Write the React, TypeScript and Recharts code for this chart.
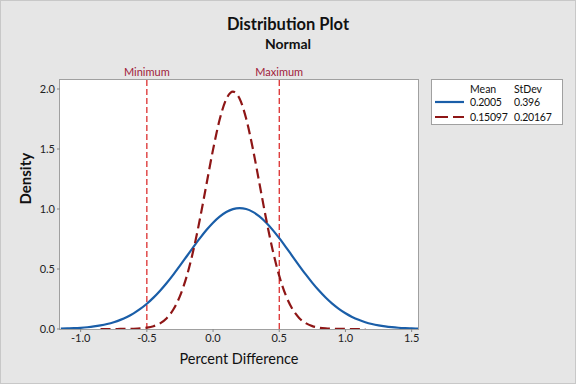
import { LineChart, Line, XAxis, YAxis, ReferenceLine } from 'recharts'

const xValues = [
  -1.15, -1.1, -1.05, -1.0, -0.95, -0.9, -0.85, -0.8, -0.75, -0.7, -0.65, -0.6, -0.55, -0.5,
  -0.45, -0.4, -0.35, -0.3, -0.25, -0.2, -0.15, -0.1, -0.05, 0.0, 0.05, 0.1, 0.15, 0.2,
  0.25, 0.3, 0.35, 0.4, 0.45, 0.5, 0.55, 0.6, 0.65, 0.7, 0.75, 0.8, 0.85, 0.9, 0.95, 1.0,
  1.05, 1.1, 1.15, 1.2, 1.25, 1.3, 1.35, 1.4, 1.45, 1.5, 1.55,
]

// Mean 0.2005, StDev 0.396
const densityWide = [
  0.003, 0.00459, 0.00688, 0.01018, 0.0148, 0.02119, 0.02987, 0.04141, 0.05653, 0.07592,
  0.10034, 0.13057, 0.1672, 0.21072, 0.26136, 0.31907, 0.38331, 0.45327, 0.52746, 0.60408,
  0.68095, 0.75538, 0.82473, 0.88624, 0.93724, 0.9755, 0.99927, 1.00743, 0.99959, 0.97613,
  0.93814, 0.88737, 0.82607, 0.75684, 0.68246, 0.60563, 0.52899, 0.45469, 0.38469, 0.3203,
  0.26246, 0.21168, 0.16803, 0.13126, 0.10091, 0.07636, 0.05687, 0.04167, 0.03006, 0.02135,
  0.01492, 0.01026, 0.00694, 0.00462, 0.00303,
]

// Mean 0.15097, StDev 0.20167
const densityNarrow = [
  null, null, null, null, null, null, 0.00001, 0.00003, 0.00008, 0.00027,
  0.00074, 0.00193, 0.00471, 0.01081, 0.02333, 0.04737, 0.09044, 0.16233, 0.27412, 0.43516,
  0.64956, 0.91193, 1.20399, 1.49479, 1.74517, 1.91603, 1.97818, 1.9206, 1.75351, 1.50551,
  1.21553, 0.92289, 0.65894, 0.44247, 0.27934, 0.16579, 0.09264, 0.04862, 0.024, 0.01115,
  0.00487, 0.002, 0.00077, 0.00028, 0.0001, 0.00003, 0.00001, null, null, null,
  null, null, null, null, null,
]

const xTicks = [-1.0, -0.5, 0.0, 0.5, 1.0, 1.5]
const yTicks = [0.0, 0.5, 1.0, 1.5, 2.0]
const limits = [
  { x: -0.5, label: 'Minimum' },
  { x: 0.5, label: 'Maximum' },
]
const legendRows = [
  { mean: '0.2005', sd: '0.396', color: '#1a5ea8', dash: '' },
  { mean: '0.15097', sd: '0.20167', color: '#8e1616', dash: '13 5' },
]

const data = xValues.map((x, i) => ({ x, wide: densityWide[i], narrow: densityNarrow[i] }))

const font = 'Lato, "Open Sans", sans-serif'
// plot area (inside the grey frame)
const PLOT = { left: 60, top: 80, right: 418, bottom: 329 }

export default function App() {
  return (
    <div style={{
      position: 'absolute', left: 0, top: 0, width: 576, height: 384, background: '#e6e6e6',
      boxShadow: 'inset 0 0 0 1px #c8c8c8', fontFamily: font, overflow: 'hidden',
    }}>
      <div style={{ position: 'absolute', left: 0, width: 576, top: 14, textAlign: 'center', fontSize: 16.5, fontWeight: 700, color: '#111' }}>
        Distribution Plot
      </div>
      <div style={{ position: 'absolute', left: 0, width: 576, top: 35, textAlign: 'center', fontSize: 14, fontWeight: 700, color: '#111' }}>
        Normal
      </div>
      <div style={{
        position: 'absolute', left: PLOT.left - 1, top: PLOT.top - 1, width: PLOT.right - PLOT.left,
        height: PLOT.bottom - PLOT.top, background: '#fff', border: '1px solid #a0a0a0',
      }} />
      <div style={{ position: 'absolute', left: 0, top: 0 }}>
        <LineChart width={576} height={384} data={data}
          margin={{ top: PLOT.top, right: 576 - PLOT.right, bottom: 0, left: 0 }}>
          <XAxis dataKey="x" type="number" domain={[-1.156, 1.548]} ticks={xTicks} allowDataOverflow
            height={384 - PLOT.bottom} axisLine={false} tickLine={{ stroke: '#888' }} tickSize={3}
            tick={{ fill: '#222', fontSize: 11, fontFamily: font }}
            tickFormatter={v => Number(v).toFixed(1)}
            label={{ value: 'Percent Difference', position: 'insideBottom', offset: 20, fill: '#111', fontSize: 14.5, fontFamily: font }} />
          <YAxis type="number" domain={[0, 2.075]} ticks={yTicks} allowDataOverflow width={PLOT.left}
            axisLine={false} tickLine={{ stroke: '#888' }} tickSize={3}
            tick={{ fill: '#222', fontSize: 11, fontFamily: font }}
            tickFormatter={v => Number(v).toFixed(1)}
            label={{ value: 'Density', angle: -90, position: 'insideLeft', offset: 26, fill: '#111', fontSize: 15, fontWeight: 700, fontFamily: font }} />
          {limits.map(l => (
            <ReferenceLine key={l.label} x={l.x} stroke="#d91e1e" strokeDasharray="6 3" strokeWidth={1.2}
              label={{ value: l.label, position: 'top', offset: 4, fill: '#a0203a', fontSize: 11, fontFamily: font }} />
          ))}
          <Line type="monotone" dataKey="wide" stroke="#1a5ea8" strokeWidth={2.2} dot={false} isAnimationActive={false} />
          <Line type="monotone" dataKey="narrow" stroke="#8e1616" strokeWidth={2.2} strokeDasharray="10 5" dot={false} isAnimationActive={false} />
        </LineChart>
      </div>
      <div style={{
        position: 'absolute', left: 431, top: 79, width: 130, height: 44, background: '#fff',
        border: '1px solid #a0a0a0', fontSize: 10.5, color: '#111', lineHeight: '13px',
      }}>
        <div style={{ position: 'absolute', left: 38, top: 3 }}>Mean</div>
        <div style={{ position: 'absolute', left: 82, top: 3 }}>StDev</div>
        {legendRows.map((r, i) => (
          <div key={r.mean}>
            <svg style={{ position: 'absolute', left: 3, top: 17 + i * 15 }} width={29} height={10}>
              <line x1={0} x2={29} y1={5} y2={5} stroke={r.color} strokeWidth={2.2} strokeDasharray={r.dash} />
            </svg>
            <div style={{ position: 'absolute', left: 38, top: 15.5 + i * 15, letterSpacing: -0.2 }}>{r.mean}</div>
            <div style={{ position: 'absolute', left: 82, top: 15.5 + i * 15, letterSpacing: -0.2 }}>{r.sd}</div>
          </div>
        ))}
      </div>
    </div>
  )
}
